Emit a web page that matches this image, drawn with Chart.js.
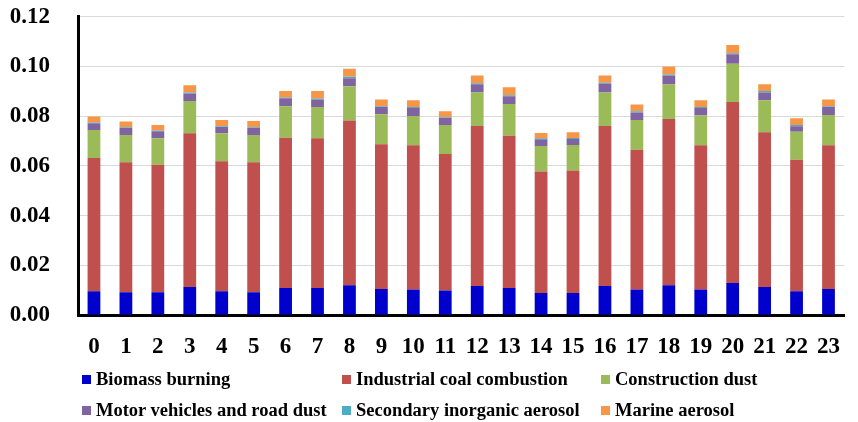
<!DOCTYPE html>
<html>
<head>
<meta charset="utf-8">
<script src="https://cdn.jsdelivr.net/npm/chart.js@4.4.1/dist/chart.umd.min.js"></script>
<style>
  html, body { margin: 0; padding: 0; background: #fff; }
  #wrap { position: relative; width: 858px; height: 422px; overflow: hidden; }
  #c { position: absolute; left: 0; top: 0; }
  #legend { position: absolute; left: 82px; top: 368px; display: grid;
            grid-template-columns: 260px 259px auto; row-gap: 8px;
            font-family: "Liberation Serif", "Times New Roman", serif; font-weight: bold;
            font-size: 18.5px; line-height: 23px; color: #000; }
  .item { display: flex; align-items: center; white-space: nowrap; }
  .box { width: 9px; height: 9px; margin-right: 5px; flex: none; }
</style>
</head>
<body>
<div id="wrap">
  <canvas id="c" width="858" height="422"></canvas>
  <div id="legend"></div>
</div>
<script>
const hours = ['0','1','2','3','4','5','6','7','8','9','10','11','12','13','14','15','16','17','18','19','20','21','22','23'];
const seriesNames = ['Biomass burning','Industrial coal combustion','Construction dust','Motor vehicles and road dust','Secondary inorganic aerosol','Marine aerosol'];
const seriesColors = ['#0000CC','#C0504D','#9BBB59','#8064A2','#4BACC6','#F79646'];

const biomass = [0.0096,0.0092,0.0092,0.0113,0.0096,0.0092,0.0109,0.0109,0.0120,0.0105,0.0103,0.0099,0.0117,0.0109,0.0089,0.0089,0.0117,0.0103,0.0120,0.0103,0.0129,0.0113,0.0096,0.0105];
const coal = [0.0536,0.0523,0.0513,0.0618,0.0523,0.0523,0.0604,0.0602,0.0663,0.0582,0.0580,0.0549,0.0644,0.0612,0.0488,0.0492,0.0644,0.0562,0.0669,0.0580,0.0728,0.0622,0.0529,0.0578];
const construction = [0.0112,0.0109,0.0106,0.0130,0.0112,0.0109,0.0127,0.0126,0.0138,0.0121,0.0118,0.0117,0.0134,0.0128,0.0103,0.0103,0.0134,0.0120,0.0139,0.0120,0.0154,0.0129,0.0112,0.0122];
const vehicles = [0.0028,0.0029,0.0028,0.0030,0.0026,0.0029,0.0032,0.0030,0.0032,0.0029,0.0032,0.0028,0.0034,0.0031,0.0027,0.0024,0.0036,0.0030,0.0036,0.0030,0.0038,0.0031,0.0023,0.0032];
const secondary = [0.0003,0.0003,0.0003,0.0004,0.0003,0.0003,0.0003,0.0004,0.0006,0.0003,0.0004,0.0003,0.0004,0.0004,0.0004,0.0004,0.0004,0.0005,0.0004,0.0004,0.0004,0.0006,0.0005,0.0003];
const marine = [0.0024,0.0023,0.0023,0.0030,0.0025,0.0025,0.0026,0.0030,0.0032,0.0027,0.0027,0.0024,0.0031,0.0032,0.0021,0.0023,0.0029,0.0027,0.0032,0.0027,0.0034,0.0028,0.0027,0.0027];

const yTicks = [0, 0.02, 0.04, 0.06, 0.08, 0.10, 0.12];

const seriesData = [biomass, coal, construction, vehicles, secondary, marine];
const datasets = seriesNames.map((name, i) => ({
  label: name,
  data: seriesData[i],
  backgroundColor: seriesColors[i],
  borderWidth: 0,
  barPercentage: 0.4,
  categoryPercentage: 1.0
}));

const FONT = '"Liberation Serif", "Times New Roman", serif';

new Chart(document.getElementById('c'), {
  type: 'bar',
  data: { labels: hours, datasets },
  options: {
    responsive: false,
    devicePixelRatio: 1,
    animation: false,
    layout: { padding: { left: 0, right: 0, top: 15, bottom: 62 } },
    plugins: { legend: { display: false }, tooltip: { enabled: false } },
    scales: {
      x: {
        stacked: true,
        grid: { display: false, drawTicks: false },
        border: { color: '#000', width: 3 },
        ticks: { color: '#000', padding: 18, maxRotation: 0, autoSkip: false,
                 font: { family: FONT, size: 23, weight: 'bold' } },
        afterFit(s) { s.height = 45; }
      },
      y: {
        stacked: true,
        min: 0, max: 0.12,
        grid: { color: '#d9d9d9', lineWidth: 1, drawTicks: true, tickLength: 25,
                tickColor: 'rgba(0,0,0,0)' },
        border: { color: '#000', width: 3 },
        afterBuildTicks(s) { s.ticks = yTicks.map(v => ({ value: v })); },
        ticks: { color: '#000', padding: 3,
                 font: { family: FONT, size: 23, weight: 'bold' },
                 callback: v => Number(v).toFixed(2) },
        afterFit(s) { s.width = 78; }
      }
    }
  }
});

const legend = document.getElementById('legend');
seriesNames.forEach((name, i) => {
  const it = document.createElement('div');
  it.className = 'item';
  const b = document.createElement('span');
  b.className = 'box';
  b.style.background = seriesColors[i];
  const t = document.createElement('span');
  t.textContent = name;
  it.appendChild(b); it.appendChild(t);
  legend.appendChild(it);
});
</script>
</body>
</html>
